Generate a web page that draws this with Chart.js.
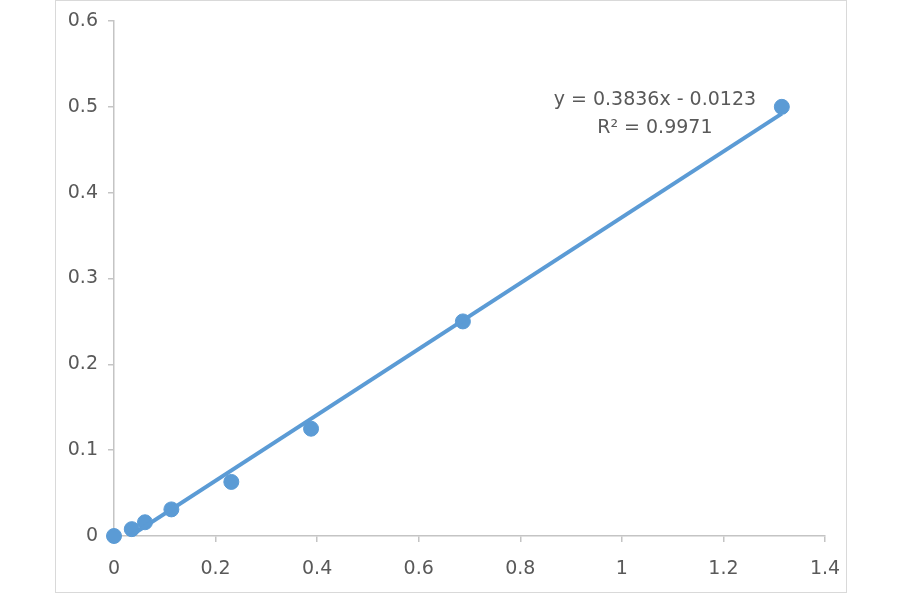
<!DOCTYPE html>
<html lang="en">
<head>
  <meta charset="UTF-8">
  <title>Linear fit</title>
  <script src="https://cdn.jsdelivr.net/npm/chart.js"></script>
  <style>
    html, body { margin: 0; padding: 0; background: #fff; }
    #box {
      position: absolute; left: 55px; top: 0;
      width: 790px; height: 591px;
      border: 1px solid #d9d9d9;
    }
  </style>
</head>
<body>
  <div id="box"><canvas id="fitChart" width="790" height="591"></canvas></div>

  <script>
// measured points
const xValues = [0, 0.035, 0.061, 0.113, 0.231, 0.388, 0.687, 1.315];
const yValues = [0, 0.008, 0.016, 0.031, 0.063, 0.125, 0.25, 0.5];

// trendline as given on the chart
const slope = 0.3836;
const intercept = -0.0123;
const rSquared = 0.9971;
const trendX = [0, 1.315];

const xTicks = [0, 0.2, 0.4, 0.6, 0.8, 1, 1.2, 1.4];
const yTicks = [0, 0.1, 0.2, 0.3, 0.4, 0.5, 0.6];

const blue = '#5b9bd5';
const gray = '#595959';
const axisGray = '#c4c4c4';
const fontFamily = '"DejaVu Sans", sans-serif';

const points = xValues.map((x, i) => ({ x: x, y: yValues[i] }));
const trend = trendX.map(x => ({ x: x, y: slope * x + intercept }));

// equation label drawn next to the line
const equationLabel = {
  id: 'equationLabel',
  afterDatasetsDraw(chart) {
    const ctx = chart.ctx;
    const px = chart.scales.x.getPixelForValue(1.065);
    const py = chart.scales.y.getPixelForValue(0.508);
    const sign = intercept < 0 ? '-' : '+';
    ctx.save();
    ctx.fillStyle = gray;
    ctx.font = '19px ' + fontFamily;
    ctx.textAlign = 'center';
    ctx.textBaseline = 'middle';
    ctx.fillText('y = ' + slope + 'x ' + sign + ' ' + Math.abs(intercept), px, py);
    ctx.fillText('R\u00b2 = ' + rSquared, px, py + 28);
    ctx.restore();
  }
};

const ctx = document.getElementById('fitChart').getContext('2d');
new Chart(ctx, {
  type: 'scatter',
  data: {
    datasets: [
      {
        label: 'Trend',
        type: 'line',
        data: trend,
        borderColor: blue,
        borderWidth: 4,
        pointRadius: 0,
        fill: false
      },
      {
        label: 'Data',
        data: points,
        backgroundColor: blue,
        borderColor: blue,
        pointRadius: 7.5,
        pointHoverRadius: 7.5,
        clip: false
      }
    ]
  },
  plugins: [equationLabel],
  options: {
    responsive: false,
    animation: false,
    layout: { padding: { top: 20, right: 21, left: 0, bottom: 0 } },
    plugins: {
      legend: { display: false },
      tooltip: { enabled: false }
    },
    scales: {
      x: {
        type: 'linear',
        min: 0,
        max: 1.4,
        afterBuildTicks: axis => { axis.ticks = xTicks.map(v => ({ value: v })); },
        afterFit: axis => {
          axis.height = 56;
          axis.paddingLeft = 0;
          axis.paddingRight = 0;
        },
        grid: { drawOnChartArea: false, drawTicks: true, tickLength: 6, color: axisGray, lineWidth: 1.5 },
        border: { color: axisGray, width: 1.5 },
        ticks: {
          color: gray,
          padding: 16,
          maxRotation: 0,
          font: { family: fontFamily, size: 19 },
          callback: v => String(v)
        }
      },
      y: {
        type: 'linear',
        min: 0,
        max: 0.6,
        afterBuildTicks: axis => { axis.ticks = yTicks.map(v => ({ value: v })); },
        afterFit: axis => {
          axis.width = 58;
          axis.paddingTop = 0;
          axis.paddingBottom = 0;
        },
        grid: { drawOnChartArea: false, drawTicks: true, tickLength: 6, color: axisGray, lineWidth: 1.5 },
        border: { color: axisGray, width: 1.5 },
        ticks: {
          color: gray,
          padding: 10,
          font: { family: fontFamily, size: 19 },
          callback: v => String(v)
        }
      }
    }
  }
});
  </script>
</body>
</html>
